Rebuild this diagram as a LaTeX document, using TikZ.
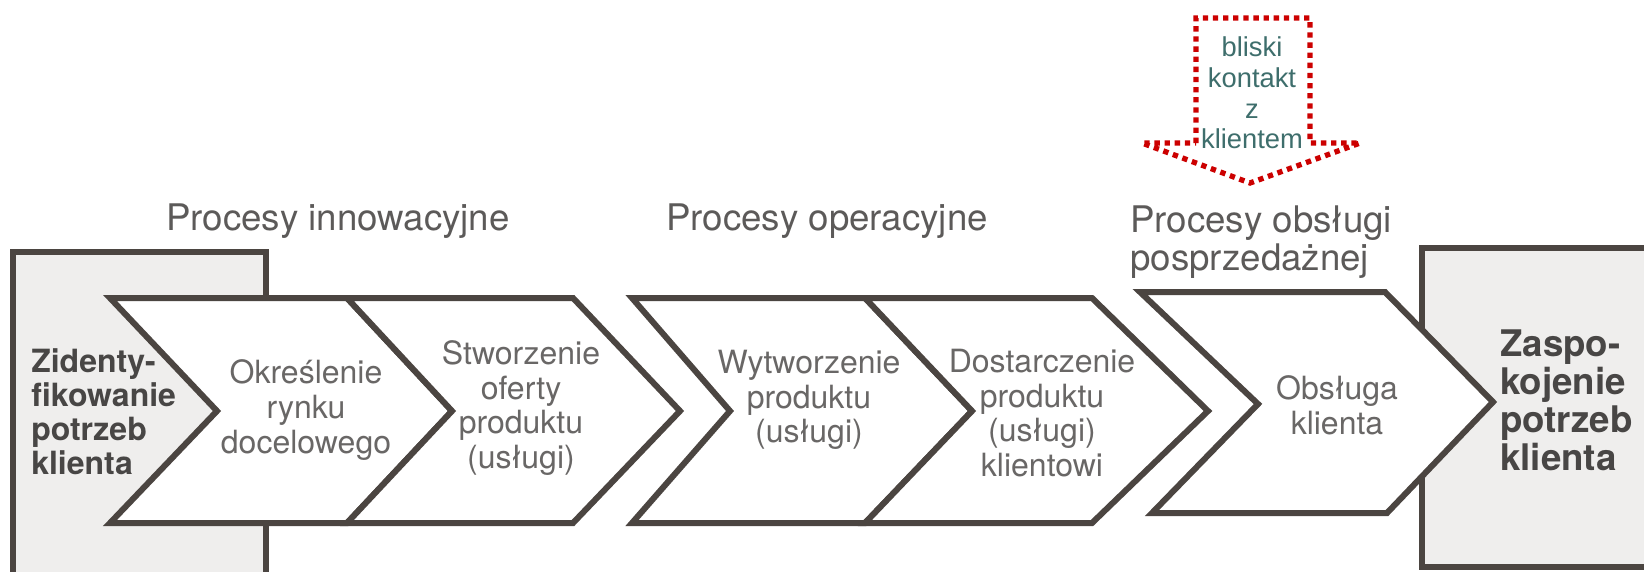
\documentclass[tikz,border=0pt]{standalone}
\usepackage{fontspec}
\setmainfont{TeX Gyre Heros}
\newfontfamily\arialfont{Liberation Sans}
\definecolor{edgec}{RGB}{75,69,65}
\definecolor{boxfill}{RGB}{239,238,237}
\definecolor{txtc}{RGB}{105,103,102}
\definecolor{headc}{RGB}{92,90,89}
\definecolor{boldc}{RGB}{72,70,69}
\definecolor{redc}{RGB}{204,0,0}
\definecolor{tealc}{RGB}{62,110,108}
\tikzset{
  frameline/.style={draw=edgec, line width=4.5pt, line join=miter, miter limit=10},
  sidebox/.style={frameline, fill=boxfill},
  chev/.style={frameline, fill=white},
  steptext/.style={align=center, inner sep=0pt, text=txtc, font=\fontsize{24}{26}\selectfont},
  endtext/.style={align=left, inner sep=0pt, text=boldc, anchor=west},
  headtext/.style={inner sep=0pt, text=headc, font=\fontsize{27.5}{28.5}\selectfont},
  redarrow/.style={draw=redc, line width=4pt, dash pattern=on 4pt off 3.6pt, line cap=butt, line join=miter},
  redtext/.style={align=center, inner sep=0pt, text=tealc, font=\arialfont\fontsize{20.5}{23}\selectfont}
}
\begin{document}
\begin{tikzpicture}[x=0.75pt,y=-0.75pt]
\clip (0,0) rectangle (1644,571);
\fill[white] (0,0) rectangle (1644,571);

% side boxes
\draw[sidebox] (13,590) -- (13,252) -- (266,252) -- (266,590);
\draw[sidebox] (1680,248) -- (1422,248) -- (1422,567) -- (1680,567);

% chevrons 1-4
\draw[chev] (110,298) -- (347,298) -- (452,411) -- (347,523) -- (110,523) -- (217,411) -- cycle;
\draw[chev] (347,298) -- (573,298) -- (680,411) -- (573,523) -- (347,523) -- (452,411) -- cycle;
\draw[chev] (632,298) -- (865,298) -- (972,411) -- (865,523) -- (632,523) -- (730,411) -- cycle;
\draw[chev] (865,298) -- (1092,298) -- (1208,411) -- (1092,523) -- (865,523) -- (972,411) -- cycle;
% chevron 5
\draw[chev] (1140,292) -- (1385,292) -- (1493,402) -- (1387,513) -- (1152,513) -- (1258,404) -- cycle;

% texts
\node[endtext, font=\bfseries\fontsize{24}{25.5}\selectfont] (start) at (31,412) {Zidenty-\\fikowanie\\potrzeb\\klienta};
\node[steptext] (s1) at (306,410) {Określenie\\rynku\\docelowego};
\node[steptext] (s2) at (521,408) {Stworzenie\\oferty\\produktu\\(usługi)};
\node[steptext] (s3) at (809,400) {Wytworzenie\\produktu\\(usługi)};
\node[steptext] (s4) at (1042,413) {Dostarczenie\\produktu\\(usługi)\\klientowi};
\node[steptext] (s5) at (1337,405) {Obsługa\\klienta};
\node[endtext, font=\bfseries\fontsize{27.5}{28.5}\selectfont] (goal) at (1500,400) {Zaspo-\\kojenie\\potrzeb\\klienta};

% headings
\node[headtext, anchor=base] (h1) at (338,230) {Procesy innowacyjne};
\node[headtext, anchor=base] (h2) at (827,230) {Procesy operacyjne};
\node[headtext, anchor=west, align=left] (h3) at (1130,242) {Procesy obsługi\\posprzedażnej};

% red dotted arrow
\coordinate (a1) at (1196,143);
\coordinate (a2) at (1196,18);
\coordinate (a3) at (1310,18);
\coordinate (a4) at (1310,143);
\coordinate (a5) at (1360,143);
\coordinate (a6) at (1250,183);
\coordinate (a7) at (1142,143);
\draw[redarrow] (a1) -- (a2) -- (a3) -- (a4) -- (a5) -- (a6) -- (a7) -- cycle;
\node[redtext] (contact) at (1252,93) {bliski\\kontakt\\z\\klientem};
\end{tikzpicture}
\end{document}
